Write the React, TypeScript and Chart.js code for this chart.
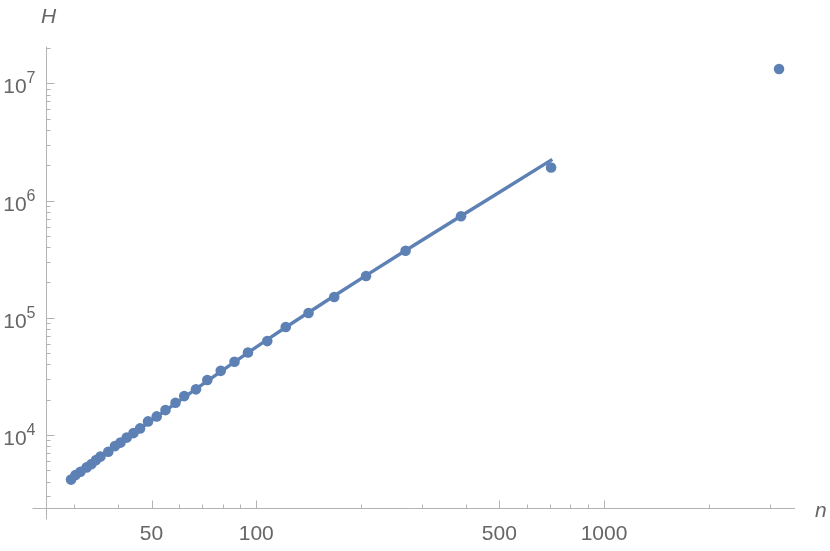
import React, { useEffect, useRef } from "react";
import { Chart, registerables } from "chart.js";

Chart.register(...registerables);

// Data points (n, H)
const nValues = [
  29.35, 30.23, 31.24, 32.52, 33.61, 34.63, 35.67, 37.56, 39.26, 40.72, 42.43,
  44.38, 46.34, 48.86, 51.75, 54.85, 58.61, 62.09, 67.13, 72.35, 79.07, 86.6,
  94.7, 107.6, 121.6, 141.4, 167.6, 206.9, 268.8, 388.0, 704.2, 3185,
];
const hValues = [
  4165, 4548, 4853, 5291, 5645, 6107, 6542, 7190, 8043, 8613, 9502, 10380,
  11385, 13062, 14410, 16310, 18820, 21470, 24500, 29410, 35240, 42130, 50500,
  63260, 83300, 109670, 150200, 226900, 373000, 734600, 1912000, 13240000,
];

// Fitted curve
const fitN = [29.35, 35.56, 46.34, 68.93, 107.6, 167.4, 268.8, 388.0, 710];
const fitH = [4205, 6478, 11340, 26140, 65160, 153200, 374500, 737500, 2246000];

// Axis ranges and ticks
const X_MIN = 24.95;
const X_MAX = 3540;
const Y_MIN = 2360;
const Y_MAX = 20530000;
const xMajorTicks = [50, 100, 500, 1000];
const xMinorTicks = [30, 40, 60, 70, 80, 90, 200, 300, 400, 600, 700, 800, 900, 2000, 3000];
const yMajorExponents = [4, 5, 6, 7];
const yMinorTicks = [
  3000, 4000, 5000, 6000, 7000, 8000, 9000,
  20000, 30000, 40000, 50000, 60000, 70000, 80000, 90000,
  200000, 300000, 400000, 500000, 600000, 700000, 800000, 900000,
  2000000, 3000000, 4000000, 5000000, 6000000, 7000000, 8000000, 9000000,
  20000000,
];
const xAxisLabel = "n";
const yAxisLabel = "H";

const BLUE = "#5E81B5";
const AXIS = "#b3b3b3";
const LABEL = "#666666";
const FONT = '"Liberation Sans", Arial, sans-serif';

const axesPlugin = {
  id: "mmaAxes",
  beforeDatasetsDraw(chart: any) {
    const { ctx, scales } = chart;
    const xs = scales.x;
    const ys = scales.y;
    const ox = xs.getPixelForValue(X_MIN);
    const oy = ys.getPixelForValue(Y_MIN);
    const topY = ys.getPixelForValue(Y_MAX);
    const rightX = xs.getPixelForValue(X_MAX);
    ctx.save();
    ctx.strokeStyle = AXIS;
    ctx.lineWidth = 1;
    // axes lines
    ctx.beginPath();
    ctx.moveTo(ox - 14, oy);
    ctx.lineTo(rightX, oy);
    ctx.moveTo(ox, topY);
    ctx.lineTo(ox, oy + 11);
    ctx.stroke();
    // x ticks
    ctx.beginPath();
    for (const v of xMajorTicks) {
      const px = Math.round(xs.getPixelForValue(v)) + 0.5;
      ctx.moveTo(px, oy);
      ctx.lineTo(px, oy - 8);
    }
    for (const v of xMinorTicks) {
      const px = Math.round(xs.getPixelForValue(v)) + 0.5;
      ctx.moveTo(px, oy);
      ctx.lineTo(px, oy - 4);
    }
    // y ticks
    for (const e of yMajorExponents) {
      const py = Math.round(ys.getPixelForValue(Math.pow(10, e))) + 0.5;
      ctx.moveTo(ox, py);
      ctx.lineTo(ox + 8, py);
    }
    for (const v of yMinorTicks) {
      const py = Math.round(ys.getPixelForValue(v)) + 0.5;
      ctx.moveTo(ox, py);
      ctx.lineTo(ox + 4, py);
    }
    ctx.stroke();

    // labels
    ctx.fillStyle = LABEL;
    ctx.font = `21px ${FONT}`;
    ctx.textAlign = "center";
    ctx.textBaseline = "alphabetic";
    for (const v of xMajorTicks) {
      ctx.fillText(String(v), xs.getPixelForValue(v), oy + 31);
    }
    for (const e of yMajorExponents) {
      const py = ys.getPixelForValue(Math.pow(10, e));
      const supX = ox - 11;
      ctx.font = `16px ${FONT}`;
      ctx.textAlign = "right";
      ctx.fillText(String(e), supX, py);
      const sw = ctx.measureText(String(e)).width;
      ctx.font = `21px ${FONT}`;
      ctx.fillText("10", supX - sw, py + 10);
    }
    ctx.font = `italic 21px ${FONT}`;
    ctx.textAlign = "center";
    ctx.fillText(yAxisLabel, ox + 2, 23);
    ctx.textAlign = "left";
    ctx.fillText(xAxisLabel, rightX + 20, oy + 8);
    ctx.restore();
  },
};

export default function App() {
  const ref = useRef<HTMLCanvasElement | null>(null);
  useEffect(() => {
    document.body.style.margin = "0";
    if (!ref.current) return;
    const chart = new Chart(ref.current, {
      type: "scatter",
      data: {
        datasets: [
          {
            type: "line",
            label: "fit",
            data: fitN.map((n, i) => ({ x: n, y: fitH[i] })),
            borderColor: BLUE,
            borderWidth: 3.4,
            pointRadius: 0,
            tension: 0.4,
            fill: false,
          } as any,
          {
            label: "data",
            data: nValues.map((n, i) => ({ x: n, y: hValues[i] })),
            backgroundColor: BLUE,
            borderColor: BLUE,
            borderWidth: 0,
            pointRadius: 5.3,
          },
        ],
      },
      options: {
        responsive: false,
        animation: false,
        devicePixelRatio: 1,
        layout: { padding: { left: 46.5, right: 35, top: 46.7, bottom: 42.5 } },
        plugins: { legend: { display: false }, tooltip: { enabled: false } },
        scales: {
          x: { type: "logarithmic", min: X_MIN, max: X_MAX, display: false },
          y: { type: "logarithmic", min: Y_MIN, max: Y_MAX, display: false },
        },
      },
      plugins: [axesPlugin],
    });
    return () => chart.destroy();
  }, []);
  return (
    <div style={{ position: "absolute", left: 0, top: 0, width: 830, height: 551, background: "#fff" }}>
      <canvas ref={ref} width={830} height={551} />
    </div>
  );
}
